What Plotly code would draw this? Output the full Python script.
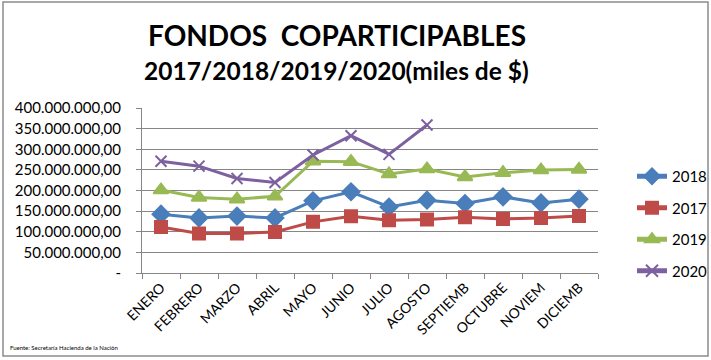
import plotly.graph_objects as go

months = ["ENERO", "FEBRERO", "MARZO", "ABRIL", "MAYO", "JUNIO", "JULIO",
          "AGOSTO", "SEPTIEMB", "OCTUBRE", "NOVIEM", "DICIEMB"]
v2018 = [142.5e6, 133.6e6, 138e6, 133.6e6, 175e6, 197e6, 160e6, 176.6e6, 168.5e6, 184.6e6, 170e6, 179e6]
v2017 = [111.7e6, 95.6e6, 95.6e6, 99.6e6, 124e6, 137.7e6, 128e6, 129.7e6, 135e6, 131e6, 133.6e6, 138.4e6]
v2019 = [201e6, 183e6, 179e6, 186e6, 271e6, 270e6, 240e6, 252e6, 233e6, 243e6, 249.4e6, 251e6]
v2020 = [271e6, 259e6, 229e6, 219.5e6, 286e6, 332.7e6, 287.6e6, 358.7e6]
ytickvals = [0, 50e6, 100e6, 150e6, 200e6, 250e6, 300e6, 350e6, 400e6]
yticktext = ["-", "50.000.000,00", "100.000.000,00", "150.000.000,00", "200.000.000,00",
             "250.000.000,00", "300.000.000,00", "350.000.000,00", "400.000.000,00"]

series = [
    ("2018", v2018, "#4A7EBB", "diamond", 13),
    ("2017", v2017, "#BE4B48", "square", 12),
    ("2019", v2019, "#98B954", "triangle-up", 13),
    ("2020", v2020, "#7D60A0", "x-thin", 11),
]

fig = go.Figure()
for name, vals, color, sym, size in series:
    fig.add_trace(go.Scatter(
        x=months[:len(vals)], y=vals, name=name, mode="lines+markers",
        legendgroup=name,
        line=dict(color=color, width=3),
        marker=dict(symbol=sym, size=size, color=color,
                    line=dict(color=color, width=2)),
    ))

font_family = "Lato, 'Open Sans', sans-serif"
PW, PH = 456, 165
fig.update_layout(
    width=711, height=360,
    margin=dict(l=142, r=113, t=108, b=87, autoexpand=False),
    paper_bgcolor="white", plot_bgcolor="white",
    font=dict(family=font_family, color="black"),
    legend=dict(x=(632-142)/PW, xanchor="left", y=0.3, yanchor="middle",
                font=dict(size=15), tracegroupgap=9, itemwidth=30,
                itemsizing="constant",
                bgcolor="rgba(0,0,0,0)"),
    showlegend=True,
)
fig.update_xaxes(
    type="category", categoryorder="array", categoryarray=months,
    range=[-0.5, 11.5], automargin=False,
    showline=True, linecolor="#868686", linewidth=1,
    ticks="outside", tickson="boundaries", ticklen=5, tickcolor="#868686",
    tickangle=-45, tickfont=dict(size=14), showgrid=False,
)
fig.update_yaxes(
    range=[0, 400e6], tickvals=ytickvals, ticktext=yticktext, automargin=False,
    showline=True, linecolor="#868686", linewidth=1,
    ticks="outside", ticklen=5, tickcolor="#868686", ticklabelstandoff=12,
    showgrid=True, gridcolor="#868686", gridwidth=1,
    tickfont=dict(size=15), zeroline=False,
)
fig.add_annotation(text="<b>FONDOS  COPARTICIPABLES</b>",
                   xref="paper", yref="paper", x=(337-142)/PW, y=1 + (108-35)/PH,
                   xanchor="center", yanchor="middle", showarrow=False,
                   font=dict(size=28, family=font_family))
fig.add_annotation(text="<b>2017/2018/2019/2020(miles de $)</b>",
                   xref="paper", yref="paper", x=(336-142)/PW, y=1 + (108-70)/PH,
                   xanchor="center", yanchor="middle", showarrow=False,
                   font=dict(size=24.5, family=font_family))
fig.add_annotation(text="Fuente: Secretaría Hacienda de la Nación",
                   xref="paper", yref="paper", x=-(142-8)/PW, y=-(347-273)/PH,
                   xanchor="left", yanchor="middle", showarrow=False,
                   font=dict(size=6, family=font_family))
fig.add_shape(type="rect", xref="paper", yref="paper",
              x0=-(142-3)/PW, x1=(708-142)/PW, y0=-(356-273)/PH, y1=1 + (108-2)/PH,
              line=dict(color="#8c8c8c", width=1.5))

fig.write_html("out.html", config={"displayModeBar": False},
               post_script="document.body.style.margin='0';")
